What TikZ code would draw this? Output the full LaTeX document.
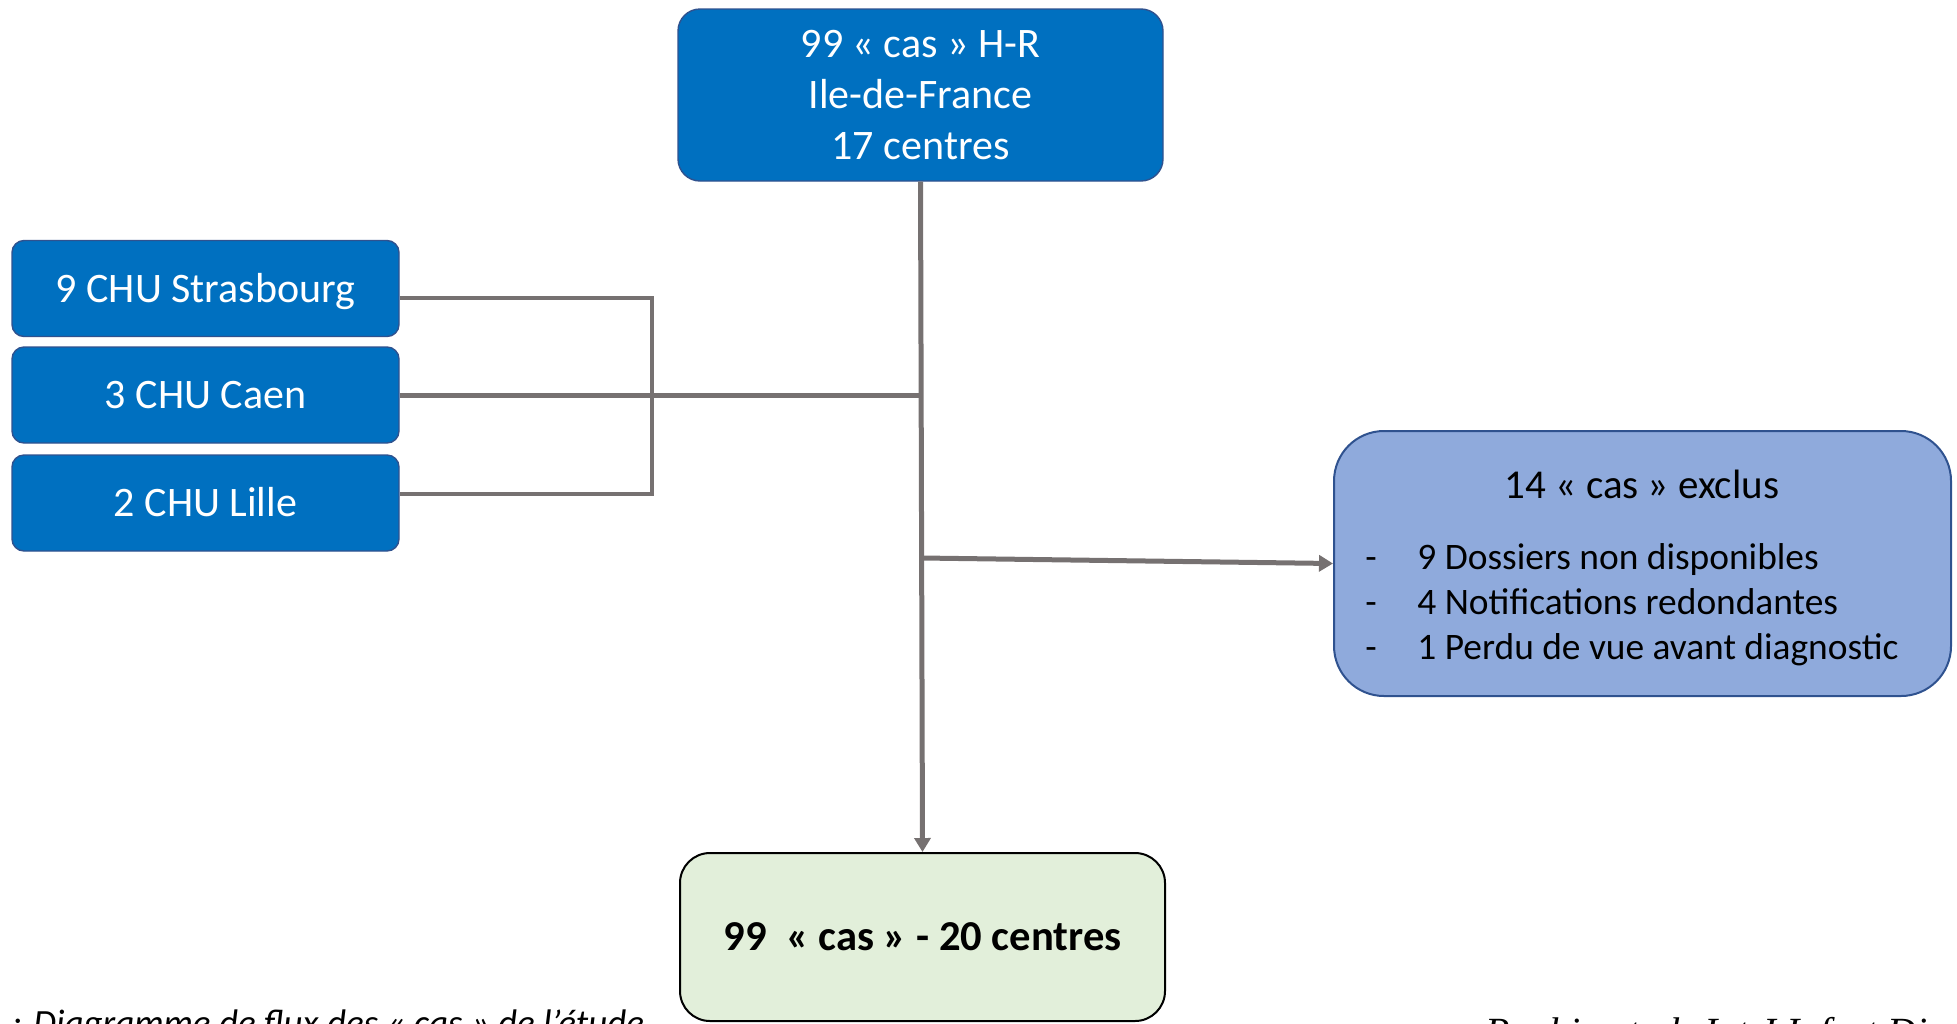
\documentclass[tikz,border=0pt]{standalone}
\usepackage{fontspec}
\setmainfont{Carlito}
\newfontfamily\timesfont{Liberation Serif}
\usetikzlibrary{arrows.meta}
\definecolor{hrblue}{HTML}{0070C0}
\definecolor{hrborder}{HTML}{2F528F}
\definecolor{exfill}{HTML}{8FAADC}
\definecolor{finfill}{HTML}{E2EFDA}
\definecolor{conn}{HTML}{767171}
\begin{document}
\begin{tikzpicture}[x=0.5pt,y=-0.5pt,
  bluebox/.style={draw=hrborder, line width=0.7pt, fill=hrblue, text=white, inner sep=0pt, align=center},
  topbox/.style={bluebox, rounded corners=11pt, minimum width=242.5pt, minimum height=86pt, font=\fontsize{21}{25.5}\selectfont},
  chubox/.style={bluebox, rounded corners=6pt, minimum width=193.5pt, minimum height=48pt, font=\fontsize{21}{25.5}\selectfont, text height=13.5pt, text depth=0pt},
  exclbox/.style={draw=hrborder, line width=1pt, fill=exfill, rounded corners=25pt, minimum width=308.5pt, minimum height=132.5pt, inner sep=0pt},
  finbox/.style={draw=black, line width=1pt, fill=finfill, rounded corners=15pt, minimum width=242.5pt, minimum height=84pt, inner sep=0pt, font=\fontsize{21.3}{25}\selectfont\bfseries},
  extitle/.style={inner sep=0pt, anchor=base, font=\fontsize{20.5}{24}\selectfont},
  exitem/.style={inner sep=0pt, anchor=base west, font=\fontsize{18.7}{22}\selectfont},
  link/.style={draw=conn, line width=2.5pt},
  thinlink/.style={draw=conn, line width=2pt},
  tip/.style={-{Triangle[length=7pt,width=8pt]}}
]
\useasboundingbox (0,0) rectangle (1957,1023);
\clip (0,0) rectangle (1957,1023);

% boxes
\node[topbox] (top) at (920.5,95) {99 « cas » H-R\\Ile-de-France\\17 centres};
\node[chubox] (stras) at (205.5,288.5) {9 CHU Strasbourg};
\node[chubox] (caen) at (205.5,395) {3 CHU Caen};
\node[chubox] (lille) at (205.5,503) {2 CHU Lille};
\node[exclbox] (excl) at (1642.5,563.5) {};
\node[extitle] (extitle) at (1642,498) {14 « cas » exclus};
\node[exitem] (d1) at (1365,569) {-};
\node[exitem] (i1) at (1417,569) {9 Dossiers non disponibles};
\node[exitem] (d2) at (1365,614) {-};
\node[exitem] (i2) at (1417,614) {4 Notifications redondantes};
\node[exitem] (d3) at (1365,659) {-};
\node[exitem] (i3) at (1417,659) {1 Perdu de vue avant diagnostic};
\node[finbox] (final) at (922.5,937) {99~~« cas » - 20 centres};

% connectors
\coordinate (bt) at (652,298);
\coordinate (bb) at (652,494);
\path[thinlink] ([yshift=-4.75pt]stras.east) -- (bt) -- (bb) -- ([yshift=4.5pt]lille.east);
\path[link] (caen.east) -- (caen.east -| top.south);
\path[link, tip] (top.south) -- (final.north);
\coordinate (jb) at (922,558);
\path[link, tip] (jb) -- (excl.west);

% captions (cut by the lower edge)
\node[inner sep=0pt, anchor=base west, font=\fontsize{18.5}{22}\selectfont\itshape] (cap1) at (12,1035) {: Diagramme de flux des « cas » de l’étude};
\node[inner sep=0pt, anchor=base west, font=\fontsize{20}{24}\timesfont\itshape] (cap2) at (1485,1045) {Roubin et al. Int J Infect Dis};
\end{tikzpicture}
\end{document}
